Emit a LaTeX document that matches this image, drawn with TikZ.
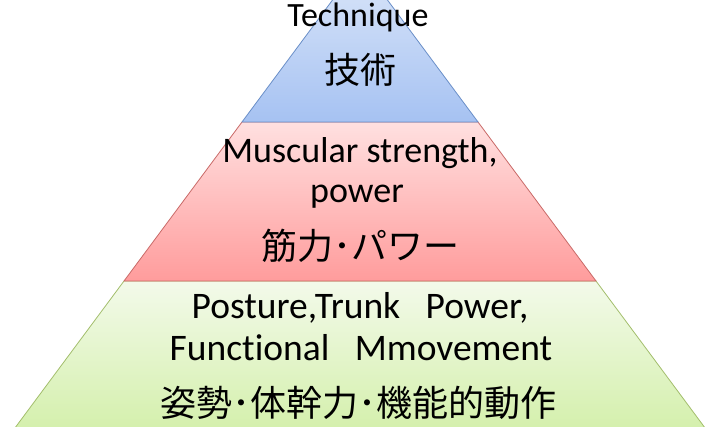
\documentclass[tikz,border=0pt]{standalone}
\usepackage{fontspec}
\setmainfont{Carlito}[Ligatures={NoCommon}]
\newfontfamily\jp{Noto Sans CJK JP}
\begin{document}
\begin{tikzpicture}[x=1pt,y=-1pt,
  entext/.style={font=\fontsize{36}{40}\selectfont, inner sep=0pt, align=center},
  bigtext/.style={font=\fontsize{37.5}{42}\selectfont, inner sep=0pt, align=center},
  toptext/.style={font=\fontsize{34}{40}\selectfont, inner sep=0pt, align=center},
  jptext/.style={font=\jp\fontsize{36}{40}\selectfont, inner sep=0pt},
  band/.style={line width=0.8pt}]
\definecolor{bluetop}{HTML}{DCE7F9}
\definecolor{bluebot}{HTML}{A6C2F2}
\definecolor{blueline}{HTML}{6A8FC8}
\definecolor{redtop}{HTML}{FFE0E0}
\definecolor{redbot}{HTML}{FF9C9C}
\definecolor{redline}{HTML}{C96A68}
\definecolor{greentop}{HTML}{F3FAEA}
\definecolor{greenbot}{HTML}{D2EFA8}
\definecolor{greenline}{HTML}{A3BE6C}
\useasboundingbox (0,0) rectangle (720,426);
\begin{scope}
\clip (0,0) rectangle (720,426);
% bottom band
\draw[band, draw=greenline, top color=greentop, bottom color=greenbot]
  (124,281) -- (596,281) -- (714,440) -- (6,440) -- cycle;
% middle band
\draw[band, draw=redline, top color=redtop, bottom color=redbot]
  (242,122) -- (478,122) -- (596,281) -- (124,281) -- cycle;
% top band
\draw[band, draw=blueline, top color=bluetop, bottom color=bluebot]
  (360,-37) -- (478,122) -- (242,122) -- cycle;
\end{scope}
% texts
\node[toptext, anchor=base] (tech) at (358,26) {Technique};
\node[jptext] (gijutsu) at (360,70) {技術};
\node[entext, anchor=base] (mus) at (360,162) {Muscular strength,};
\node[entext, anchor=base] (pow) at (357,202) {power};
\node[jptext] (kinryoku) at (360,246) {筋力･パワー};
\node[bigtext, anchor=base] (post) at (360,318) {Posture,Trunk\ \ \ Power,};
\node[bigtext, anchor=base] (func) at (361,360) {Functional\ \ \ Mmovement};
\node[jptext] (shisei) at (358,403) {姿勢･体幹力･機能的動作};
\end{tikzpicture}
\end{document}
